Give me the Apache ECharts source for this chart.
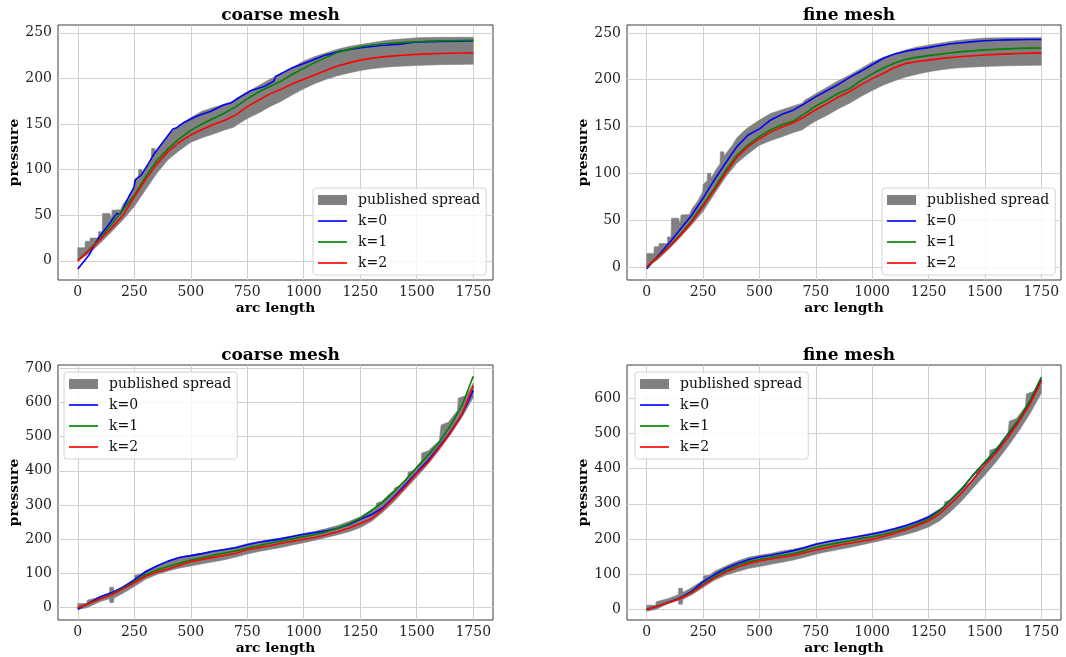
<!DOCTYPE html>
<html>
<head>
<meta charset="utf-8">
<title>Pressure along arc length</title>
<script src="https://cdn.jsdelivr.net/npm/echarts@6/dist/echarts.min.js"></script>
<style>
  html, body { margin: 0; padding: 0; background: #fff; }
  #chart { width: 1066px; height: 657px; }
</style>
</head>
<body>
<div id="chart"></div>
<script>
// ---- data -------------------------------------------------------------
// common sample positions along the arc for the computed curves
const arcLength = [0,50,100,150,200,250,300,350,400,450,500,550,600,650,700,750,800,850,
  900,950,1000,1050,1100,1150,1200,1250,1300,1350,1400,1450,1500,1550,1600,1650,1700,1750];
const arcTicks = [0,250,500,750,1000,1250,1500,1750];

// upper row: published spread (shared by both meshes)
const spreadTopUpperX = [0,32,33,54,55,91,92,108,110,142,144,150,152,190,200,225,248,250,268,270,284,286,
  310,325,327,342,344,350,380,400,425,450,475,500,550,600,650,690,700,750,800,850,900,950,1000,
  1050,1100,1150,1200,1250,1300,1350,1400,1450,1500,1600,1750];
const spreadTopUpper = [14.4,14.4,21.5,21.5,25,25,32,32,52,52,48,48,55.5,56,62,70,80,88,92,100,100,95,
  105,110,123,123,118,121,130,138,144,149,153,157,164,168,172,175,178,185,192,199,205,212,219,
  224,228,232,235,237,239,241,242.5,243.5,244.5,245,245];
const spreadTopLowerX = [0,50,100,150,200,250,300,350,400,450,500,550,600,650,690,710,750,800,850,
  900,950,1000,1050,1100,1150,1200,1250,1300,1350,1400,1500,1600,1750];
const spreadTopLower = [0,8,19.5,32,45,59.5,78,96,111,121,130,135,139,143.5,146.5,150,156,162,169,
  175,182,188.5,194.5,199,203,206,208.6,210.5,212,213,214.2,215,215.6];

// upper row, coarse mesh
const coarseTopK0X = [0,50,91,135,172,186,200,225,249,255,281,311,340,384,421,435,472,531,589,648,
  677,721,765,824,868,875,944,1018,1091,1164,1252,1340,1428,1487,1604,1750];
const coarseTopK0 = [-9,6.5,25,39,52,51,57,70,80.5,89,94,106,118,132.5,144.5,145.5,152,159,164,171,
  173,180,186.5,191,197,202,211,218,225,230,233.6,236,237.5,239.7,240.5,241];
const coarseTopK1 = [0,12,25,40,56,72,92,110,123,134,143,150,156,162,169,177.5,185,191,
  197,204.5,211,217.5,223,228.5,231.8,234.6,236.3,237.6,238.7,239.5,240.1,240.6,241,241.3,241.5,241.6];
const coarseTopK2 = [0,11.5,23.5,36,50,70,89,106,120,130,138,144,149.5,154,160,169,176,183,
  188,194,199,204,209,213.5,217,220,222,223.6,224.7,225.6,226.3,226.9,227.3,227.6,227.8,228];

// upper row, fine mesh
const fineTopK0 = [-2,12,25.5,40.5,55.5,73.5,93,111,128.5,141,147.5,157,163,167.5,174.5,182,188.5,195,
  202.5,209,216,223,227.5,230.5,232.7,234.3,236.5,238.4,239.6,240.7,241.7,242.2,242.6,242.8,243,243];
const fineTopK1 = [0,11,22,35,49.5,66.5,84,103,119.5,130.5,139.5,146.5,152,156,163.5,172,178.5,185.5,
  190.5,199,206.3,212.5,218,221.8,224.2,225.8,227.3,228.8,230,231,231.9,232.5,233,233.5,233.8,234];
const fineTopK2 = [0,10.5,21.5,34,48,64.7,82,100,117,128.5,137,144,149.5,154,160.5,168,174.5,181.5,
  187.5,194.5,201.2,207,213,217.5,219.5,221,222.6,223.8,224.8,225.7,226.5,227.1,227.6,228,228.4,228.7];

// lower row: published spread (shared by both meshes)
const spreadBotUpperX = [0,40,42,80,100,140,142,158,160,200,250,252,280,300,350,400,450,500,550,600,
  650,700,750,800,850,900,950,1000,1050,1100,1150,1200,1250,1300,1320,1322,1345,1380,1400,1402,
  1430,1460,1462,1490,1520,1522,1550,1600,1608,1640,1680,1684,1720,1750];
const spreadBotUpper = [12,12,22,28,32,42,60,60,48,62,83,95,98,108,123,137,148,154,159,166,
  171,178,187,193,199,204,210,217,223,231,240,252,266,286,294,306,310,333,343,350,
  358,382,396,402,428,452,458,488,534,542,576,612,620,656];
const spreadBotLowerX = [0,40,100,140,142,158,160,200,250,300,350,400,450,500,550,600,650,700,750,
  800,850,900,950,1000,1050,1100,1150,1200,1250,1300,1350,1400,1450,1500,1550,1600,1650,1700,1750];
const spreadBotLower = [-5,0,18,26,15,15,28,42,62,83,97,107,116,122,128,134,140,148,157,
  164,170,176,183,190,197,205,213,222,234,252,279,310,346,382,419,461,506,556,614];

// lower row, coarse mesh
const coarseBotK0 = [-5,14,32,44,60,81,105,122,136,146.5,152,158,165,170,175,184,191,196,
  201,208,214.5,219.5,225,232,243,258,272,292,324,359,395,430,471,514,564,635];
const coarseBotK1 = [0,13,27,40,57,76,97,110,120,130,139,146,153,160,166,174,181,188,
  195,201,207.6,214,222,232,245,261,284,309,340,373,410,445,484,533,590,676];
const coarseBotK2 = [0,12,26,38,55,73,92,104,113,124,134.5,141,147,153,159,169,175,181,
  188,194,200,205,213,222,233,246,260,288,320,354,392,425,468,512,564,648];

// lower row, fine mesh
const fineBotK0 = [0,10,21,33,52,79,99,116,130,141,149,154,160,167,175,185,192,198,
  203,208.5,214,221,229,238,249,262,281,312,344,383,417,452,495,538,590,653];
const fineBotK1 = [0,10,20.5,32,49,72,93,110,124,135,142,148,153,158,167,176,183,189,
  195,201,206.6,213,222,231,242,257,280,313,345,384,419,454,497,540,593,660];
const fineBotK2 = [0,9.5,19.5,31,47,69,89,106,119,130,137.4,143,148,153,161,168.7,175,182,
  188,193.5,199,207,216,226,238,251,272,301,333,371,410,444,486,532,583,648];

const topTicks = [0,50,100,150,200,250];
const botTicks = [0,100,200,300,400,500,600,700];
const botTicksFine = [0,100,200,300,400,500,600];

const seriesNames = ['k=0','k=1','k=2'];
const seriesColors = ['#0000ff','#008000','#ff0000'];
const spreadName = 'published spread';

// ---- layout of the four panels ----------------------------------------
const panels = [
  { title:'coarse mesh', left:58,  top:25,  width:435, height:255, ymin:-21, ymax:258.5, yTicks:topTicks,
    spread:[spreadTopUpperX,spreadTopUpper,spreadTopLowerX,spreadTopLower],
    curves:[[coarseTopK0X,coarseTopK0],[arcLength,coarseTopK1],[arcLength,coarseTopK2]],
    legend:{left:313, top:188} },
  { title:'fine mesh',   left:627, top:25,  width:434, height:255, ymin:-14, ymax:258.5, yTicks:topTicks,
    spread:[spreadTopUpperX,spreadTopUpper,spreadTopLowerX,spreadTopLower],
    curves:[[arcLength,fineTopK0],[arcLength,fineTopK1],[arcLength,fineTopK2]],
    legend:{left:882, top:188} },
  { title:'coarse mesh', left:58,  top:365, width:435, height:255, ymin:-36, ymax:709, yTicks:botTicks,
    spread:[spreadBotUpperX,spreadBotUpper,spreadBotLowerX,spreadBotLower],
    curves:[[arcLength,coarseBotK0],[arcLength,coarseBotK1],[arcLength,coarseBotK2]],
    legend:{left:64, top:372} },
  { title:'fine mesh',   left:627, top:365, width:434, height:255, ymin:-30, ymax:694, yTicks:botTicksFine,
    spread:[spreadBotUpperX,spreadBotUpper,spreadBotLowerX,spreadBotLower],
    curves:[[arcLength,fineBotK0],[arcLength,fineBotK1],[arcLength,fineBotK2]],
    legend:{left:635, top:372} }
];

const FONT = 'DejaVu Serif';
const TICK_SIZE = 14;
const zip = (xs, ys) => xs.map((x, i) => [x, ys[i]]);
const plain = v => String(v);
// thin horizontal bar used as the legend handle of a line
const LINE_ICON = 'path://M0,0 L30,0 L30,1.7 L0,1.7 Z';

function spreadRenderer(ux, uy, lx, ly) {
  return function (params, api) {
    if (params.dataIndex !== 0) return null;
    const pts = [];
    for (let i = 0; i < ux.length; i++) pts.push(api.coord([ux[i], uy[i]]));
    for (let i = lx.length - 1; i >= 0; i--) pts.push(api.coord([lx[i], ly[i]]));
    return {
      type: 'polygon',
      shape: { points: pts },
      style: { fill: '#808080', stroke: '#808080', lineWidth: 0.6 }
    };
  };
}

const option = {
  animation: false,
  backgroundColor: '#ffffff',
  title: [], grid: [], xAxis: [], yAxis: [], legend: [], series: []
};

panels.forEach((p, i) => {
  option.title.push({
    text: p.title,
    left: p.left + p.width / 2,
    top: p.top - 23,
    textAlign: 'center',
    textStyle: { fontFamily: FONT, fontWeight: 'bold', fontSize: 17, color: '#000' }
  });
  option.grid.push({
    left: p.left, top: p.top, width: p.width, height: p.height,
    show: true, borderColor: '#3a3a3a', borderWidth: 1, backgroundColor: 'transparent'
  });
  option.xAxis.push({
    type: 'value', gridIndex: i, min: -87.5, max: 1837.5,
    name: 'arc length', nameLocation: 'middle', nameGap: 21,
    nameTextStyle: { fontFamily: FONT, fontWeight: 'bold', fontSize: 13.8, color: '#000' },
    axisLine: { show: false },
    axisTick: { show: false, customValues: arcTicks },
    axisLabel: { customValues: arcTicks, formatter: plain, margin: 5,
      fontFamily: FONT, fontSize: TICK_SIZE, color: '#222' },
    splitLine: { show: true, lineStyle: { color: '#cfcfcf', width: 1 } }
  });
  option.yAxis.push({
    type: 'value', gridIndex: i, min: p.ymin, max: p.ymax,
    name: 'pressure', nameLocation: 'middle', nameGap: 37, nameRotate: 90,
    nameTextStyle: { fontFamily: FONT, fontWeight: 'bold', fontSize: 13.8, color: '#000' },
    axisLine: { show: false },
    axisTick: { show: false, customValues: p.yTicks },
    axisLabel: { customValues: p.yTicks, formatter: plain, margin: 6,
      fontFamily: FONT, fontSize: TICK_SIZE, color: '#222' },
    splitLine: { show: true, lineStyle: { color: '#cfcfcf', width: 1 } }
  });
  const [ux, uy, lx, ly] = p.spread;
  option.series.push({
    type: 'custom', name: spreadName, xAxisIndex: i, yAxisIndex: i,
    data: [[ux[0], uy[0]]],
    itemStyle: { color: '#808080' },
    renderItem: spreadRenderer(ux, uy, lx, ly),
    clip: true, silent: true, z: 1
  });
  p.curves.forEach(([xs, ys], k) => {
    option.series.push({
      type: 'line', name: seriesNames[k], xAxisIndex: i, yAxisIndex: i,
      data: zip(xs, ys), symbol: 'none', smooth: false,
      color: seriesColors[k],
      lineStyle: { color: seriesColors[k], width: 1.6 },
      silent: true, z: 2 + k
    });
  });
  option.legend.push({
    left: p.legend.left, top: p.legend.top, orient: 'vertical',
    data: [{ name: spreadName, icon: 'rect', itemStyle: { color: '#808080' } }]
      .concat(seriesNames.map((n, k) => ({ name: n, icon: LINE_ICON, itemStyle: { color: seriesColors[k] } }))),
    itemWidth: 29, itemHeight: 10, itemGap: 7,
    selectedMode: false,
    textStyle: { fontFamily: FONT, fontSize: TICK_SIZE, color: '#111', padding: [0, 0, 0, 6] },
    backgroundColor: 'rgba(255,255,255,0.8)', borderColor: '#d4d4d4', borderWidth: 1, borderRadius: 3,
    padding: [5, 6, 5, 5]
  });
});

const chart = echarts.init(document.getElementById('chart'), null, { renderer: 'canvas' });
chart.setOption(option);
</script>
</body>
</html>
